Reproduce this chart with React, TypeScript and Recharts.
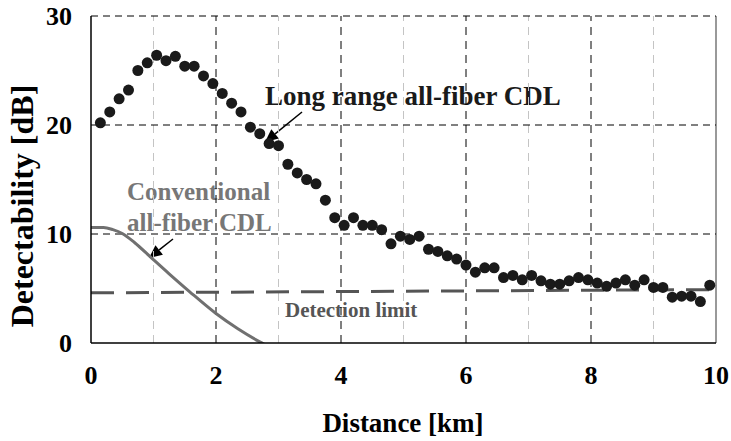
import {
  ComposedChart,
  Scatter,
  Line,
  XAxis,
  YAxis,
  ReferenceLine,
  Customized,
} from "recharts";

// measured points (km, dB)
const distance = [
  0.15, 0.3, 0.45, 0.6, 0.75, 0.9, 1.05, 1.2, 1.35, 1.5, 1.65, 1.8, 1.95, 2.1,
  2.25, 2.4, 2.55, 2.7, 2.85, 3.0, 3.15, 3.3, 3.45, 3.6, 3.75, 3.9, 4.05, 4.2,
  4.35, 4.5, 4.65, 4.8, 4.95, 5.1, 5.25, 5.4, 5.55, 5.7, 5.85, 6.0, 6.15, 6.3,
  6.45, 6.6, 6.75, 6.9, 7.05, 7.2, 7.35, 7.5, 7.65, 7.8, 7.95, 8.1, 8.25, 8.4,
  8.55, 8.7, 8.85, 9.0, 9.15, 9.3, 9.45, 9.6, 9.75, 9.9,
];
const detectability = [
  20.2, 21.2, 22.4, 23.2, 25.0, 25.7, 26.4, 25.9, 26.3, 25.4, 25.4, 24.5, 23.8,
  22.9, 22.0, 21.2, 19.8, 19.2, 18.3, 18.1, 16.4, 15.6, 15.0, 14.6, 13.1, 11.5,
  10.8, 11.5, 10.8, 10.8, 10.4, 9.1, 9.8, 9.5, 9.8, 8.6, 8.4, 8.0, 7.7, 7.15,
  6.5, 6.9, 6.9, 6.0, 6.2, 5.8, 6.2, 5.7, 5.4, 5.4, 5.7, 6.0, 5.8, 5.5, 5.2,
  5.5, 5.8, 5.3, 5.8, 5.1, 5.1, 4.2, 4.3, 4.3, 3.8, 5.3,
];

// conventional all-fiber CDL curve
const convDistance = [0, 0.2, 0.35, 0.5, 0.7, 0.95, 1.25, 1.58, 2.0, 2.35, 2.7, 2.9];
const convValue = [10.6, 10.6, 10.4, 10.05, 9.2, 7.9, 6.35, 4.7, 2.7, 1.3, 0.1, -0.5];

// detection limit
const limitDistance = [0, 10];
const limitValue = [4.6, 4.9];

const xTicks = [0, 2, 4, 6, 8, 10];
const yTicks = [0, 10, 20, 30];
const majorX = [2, 4, 6, 8];
const minorX = [1, 3, 5, 7, 9];
const majorY = [10, 20, 30];

const measured = distance.map((x, i) => ({ x, y: detectability[i] }));
const conventional = convDistance.map((x, i) => ({ x, y: convValue[i] }));
const limit = limitDistance.map((x, i) => ({ x, y: limitValue[i] }));

const FONT = '"Liberation Serif", "Times New Roman", serif';

function Arrow({ x1, y1, x2, y2 }: { x1: number; y1: number; x2: number; y2: number }) {
  const a = Math.atan2(y2 - y1, x2 - x1);
  const len = 13;
  const w = 6;
  const bx = x2 - len * Math.cos(a);
  const by = y2 - len * Math.sin(a);
  const px = -Math.sin(a) * w;
  const py = Math.cos(a) * w;
  return (
    <g>
      <line x1={x1} y1={y1} x2={bx} y2={by} stroke="#000" strokeWidth={1.5} />
      <polygon points={`${x2},${y2} ${bx + px},${by + py} ${bx - px},${by - py}`} fill="#000" />
    </g>
  );
}

function Annotations() {
  return (
    <g fontFamily={FONT} fontWeight="bold">
      <text x={265} y={105} fontSize={27} fill="#1a1a1a">
        Long range all-fiber CDL
      </text>
      <Arrow x1={302} y1={112} x2={265} y2={142} />
      <text x={127} y={200} fontSize={25} fill="#777">
        Conventional
      </text>
      <text x={127} y={231} fontSize={25} fill="#777">
        all-fiber CDL
      </text>
      <Arrow x1={173} y1={239} x2={149} y2={258} />
      <text x={285} y={317} fontSize={21} fill="#555">
        Detection limit
      </text>
      <line x1={716} y1={16} x2={716} y2={343} stroke="#777" strokeWidth={1.5} />
    </g>
  );
}

export default function App() {
  return (
    <div style={{ position: "absolute", left: 0, top: 0, background: "#fff" }}>
      <ComposedChart
        width={731}
        height={441}
        margin={{ top: 16, right: 15, bottom: 0, left: 0 }}
      >
        <XAxis
          type="number"
          dataKey="x"
          domain={[0, 10]}
          ticks={xTicks}
          height={98}
          tickLine={false}
          axisLine={{ stroke: "#000", strokeWidth: 1.5 }}
          tick={({ x, y, payload }: any) => (
            <text x={x} y={y + 33} textAnchor="middle" fontFamily={FONT} fontWeight="bold" fontSize={26} fill="#000">
              {payload.value}
            </text>
          )}
          label={{
            content: () => (
              <text x={403} y={432} textAnchor="middle" fontFamily={FONT} fontWeight="bold" fontSize={27} fill="#000">
                Distance [km]
              </text>
            ),
          }}
        />
        <YAxis
          type="number"
          domain={[0, 30]}
          ticks={yTicks}
          allowDataOverflow
          width={91}
          tickLine={false}
          axisLine={{ stroke: "#000", strokeWidth: 1.5 }}
          tick={({ x, y, payload }: any) => (
            <text x={72} y={y + 9} textAnchor="end" fontFamily={FONT} fontWeight="bold" fontSize={26} fill="#000">
              {payload.value}
            </text>
          )}
          label={{
            content: () => (
              <text
                x={33}
                y={206}
                textAnchor="middle"
                transform="rotate(-90 33 206)"
                fontFamily={FONT}
                fontWeight="bold"
                fontSize={32}
                fill="#000"
              >
                Detectability [dB]
              </text>
            ),
          }}
        />
        {minorX.map((v) => (
          <ReferenceLine key={`mx${v}`} x={v} stroke="#c4c4c4" strokeDasharray="8 6" />
        ))}
        {majorX.map((v) => (
          <ReferenceLine key={`MX${v}`} x={v} stroke="#000" strokeDasharray="8 6" />
        ))}
        {majorY.map((v) => (
          <ReferenceLine key={`MY${v}`} y={v} stroke="#000" strokeDasharray="7 5" />
        ))}
        <Line
          data={limit}
          dataKey="y"
          type="linear"
          stroke="#555"
          strokeWidth={3}
          strokeDasharray="23 12"
          dot={false}
          activeDot={false}
          isAnimationActive={false}
        />
        <Line
          data={conventional}
          dataKey="y"
          type="monotone"
          stroke="#707070"
          strokeWidth={3}
          dot={false}
          activeDot={false}
          isAnimationActive={false}
        />
        <Scatter
          data={measured}
          dataKey="y"
          fill="#1a1a1a"
          isAnimationActive={false}
          shape={(p: any) => <circle cx={p.cx} cy={p.cy} r={5.5} fill="#1a1a1a" />}
        />
        <Customized component={Annotations} />
      </ComposedChart>
    </div>
  );
}
